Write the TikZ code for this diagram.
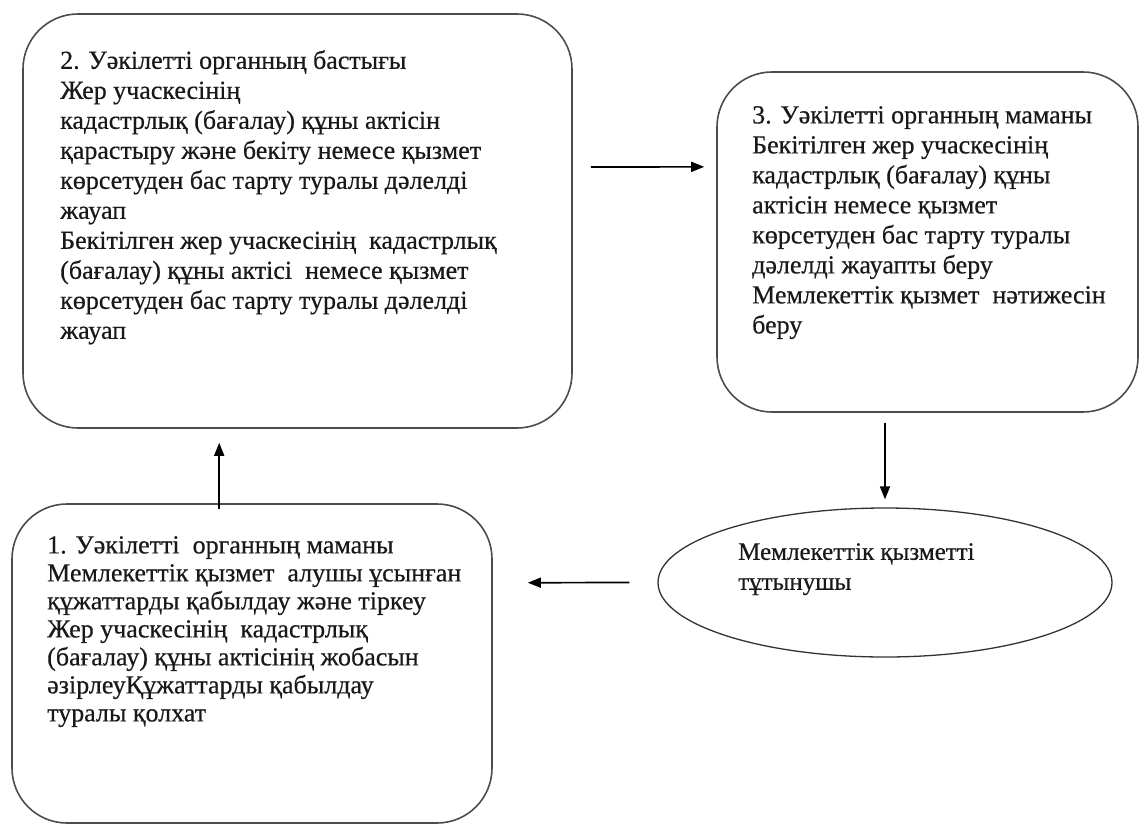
\documentclass[tikz,border=0pt]{standalone}
\usepackage{fontspec}
\setmainfont{Liberation Serif}
\newfontfamily\kzserif[FakeBold=0.5]{Liberation Serif}
\usetikzlibrary{arrows.meta,shapes.geometric,calc}
\begin{document}
\begin{tikzpicture}[x=1pt,y=-1pt,
  box/.style={draw=black!70, line width=1.6pt, rounded corners=55pt, inner sep=0pt},
  ellbox/.style={draw=black!80, line width=1.3pt, ellipse, inner sep=0pt},
  txt/.style={anchor=north west, inner sep=0pt, align=left, font=\kzserif\fontsize{26}{30}\selectfont, text=black!90},
  arr/.style={line width=1.7pt, -{Triangle[length=13pt,width=10pt]}}]
\useasboundingbox (0,0) rectangle (1140,825);
\node[box, minimum width=549pt, minimum height=414pt] (b2) at (297.5,221) {};
\node[box, minimum width=421pt, minimum height=340pt] (b3) at (927.5,242) {};
\node[box, minimum width=480pt, minimum height=319pt] (b1) at (252,663.5) {};
\node[ellbox, minimum width=454pt, minimum height=149pt] (ell) at (885,582.5) {};
\node[txt] (t2) at (60,50) {2. Уәкілетті органның бастығы\\Жер учаскесінің\\кадастрлық (бағалау) құны актісін\\қарастыру және бекіту немесе қызмет\\көрсетуден бас тарту туралы дәлелді\\жауап\\Бекітілген жер учаскесінің\ \ кадастрлық\\(бағалау) құны актісі\ \ немесе қызмет\\көрсетуден бас тарту туралы дәлелді\\жауап};
\node[txt] (t3) at (752,106) {3. Уәкілетті органның маманы\\Бекітілген жер учаскесінің\\кадастрлық (бағалау) құны\\актісін немесе қызмет\\көрсетуден бас тарту туралы\\дәлелді жауапты беру\\Мемлекеттік қызмет\ \ нәтижесін\\беру};
\node[txt, font=\kzserif\fontsize{26}{28}\selectfont] (t1) at (47,536) {1. Уәкілетті\ \ органның маманы\\Мемлекеттік қызмет\ \ алушы ұсынған\\құжаттарды қабылдау және тіркеу\\Жер учаскесінің\ \ кадастрлық\\(бағалау) құны актісінің жобасын\\әзірлеуҚұжаттарды қабылдау\\туралы қолхат};
\node[txt, font=\kzserif\fontsize{25}{30}\selectfont] (te) at (738,543) {Мемлекеттік қызметті\\тұтынушы};
\draw[arr] ($(b1.north west)+(208,6)$) -- ($(b2.south west)+(197,14)$);
\draw[arr] ($(b2.north east)!0.37!(b2.south east)+(18,0)$) -- ($(b3.north west)!0.28!(b3.south west)+(-12,0)$);
\draw[arr] ($(b3.south)+(-42.5,10)$) -- ($(ell.north)+(0,-8)$);
\draw[arr] ($(ell.west)+(-28,0)$) -- ($(b1.north east)!0.248!(b1.south east)+(35,0)$);
\end{tikzpicture}
\end{document}
